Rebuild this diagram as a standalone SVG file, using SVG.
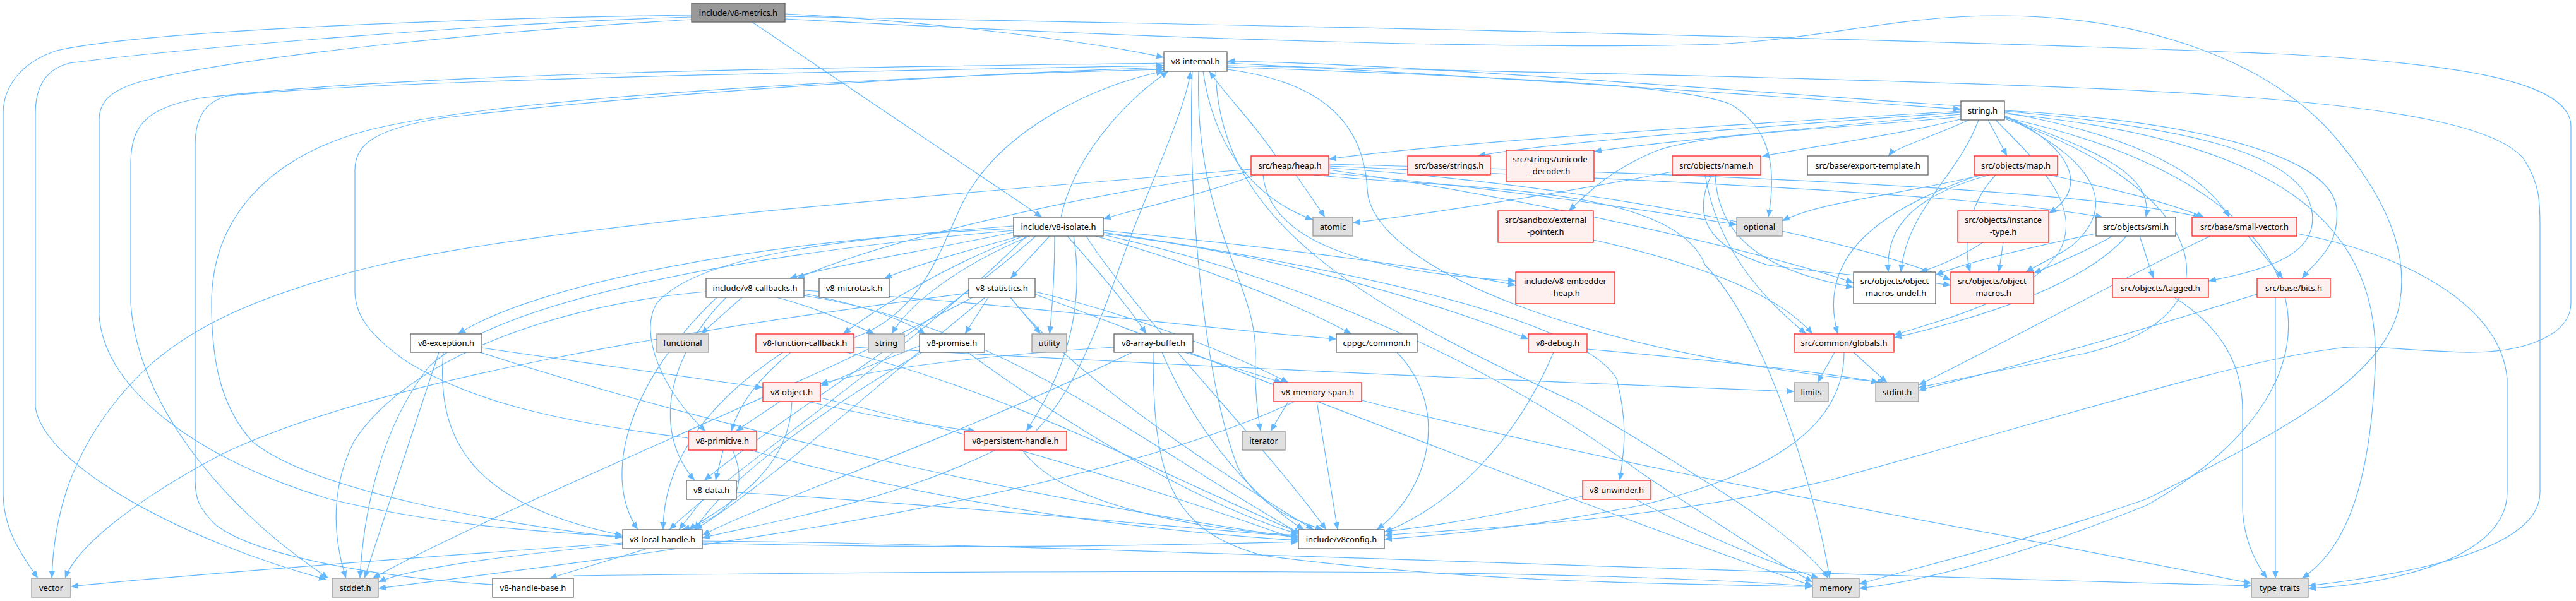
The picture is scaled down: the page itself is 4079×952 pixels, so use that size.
<svg xmlns="http://www.w3.org/2000/svg" width="4079" height="952" viewBox="0 0 4079 952">
<style>
.e path{fill:none;stroke:#63b8ff;stroke-width:1.2;marker-end:url(#ah)}
.n rect{fill:#ffffff;stroke:#666666;stroke-width:1.3}
.r rect{fill:#fff0f0;stroke:#ff2020;stroke-width:1.3}
.g rect{fill:#e0e0e0;stroke:#999999;stroke-width:1.3}
.root rect{fill:#999999;stroke:#666666;stroke-width:1.3}
text{font-family:"Noto Sans","DejaVu Sans",sans-serif;font-size:13px;text-anchor:middle;fill:#000000}
</style>
<defs>
<marker id="ah" markerWidth="12" markerHeight="10" refX="12" refY="5" orient="auto" markerUnits="userSpaceOnUse"><path d="M0,0L12,5L0,10z" fill="#63b8ff" stroke="none"/></marker>
</defs>
<rect width="4079" height="952" fill="#ffffff"/>
<g id="edges" class="e">
<path d="M1095,24 C800,28 250,45 90,80 C30,100 5,140 5,180 L5,780 C5,840 35,880 60,916"/>
<path d="M1095,27 C800,35 300,75 110,100 C70,110 56,140 56,180 L56,645 C70,740 300,860 517,918"/>
<path d="M1095,31 C800,48 400,85 220,130 C170,145 157,165 157,190 L157,500 C165,620 320,730 520,790 C700,835 900,845 986,850"/>
<path d="M1243,22 C1500,35 1750,70 1843,91"/>
<path d="M1191,35 L1650,344"/>
<path d="M1243,26 C2000,40 3000,60 3600,85 C3900,100 4071,130 4071,200 L4071,480 C4071,530 4000,560 3900,558 C3800,555 3750,545 3700,552 C3550,570 3300,650 2900,760 C2600,830 2300,838 2192,848"/>
<path d="M1243,30 C1800,60 2400,80 2720,70 C2900,60 3000,25 3166,25 C3400,25 3600,100 3700,220 C3800,340 3810,420 3800,480 C3780,600 3600,690 3400,790 C3200,860 3050,895 2944,925"/>
<path d="M1843,100 C1500,105 700,110 320,155 C230,170 207,200 207,260 L207,480 C215,620 330,790 520,916"/>
<path d="M780,926 C600,915 400,880 340,830 C315,805 309,790 309,760 L309,230 C309,180 330,160 360,152 C600,125 1500,110 1843,104"/>
<path d="M1090,694 C900,670 750,640 640,570 C585,530 562,500 562,460 L562,270 C562,230 590,205 700,187 C1100,140 1600,115 1843,107"/>
<path d="M986,852 C800,830 500,780 400,700 C345,640 335,560 335,480 C335,350 420,250 580,207 C800,150 1500,118 1843,110"/>
<path d="M1352,535 C1450,500 1480,420 1520,330 C1580,200 1750,130 1843,113"/>
<path d="M1943,100 C2300,118 2700,145 3105,173"/>
<path d="M1905,113 C1925,250 2000,320 2079,348"/>
<path d="M1898,113 C1890,350 1990,450 1988,560 C1986,620 1992,660 1996,683"/>
<path d="M1925,113 C1930,350 2150,480 2500,640 C2700,760 2850,850 2895,916"/>
<path d="M1943,106 C2300,120 2650,130 2740,165 C2800,200 2815,260 2800,344"/>
<path d="M1943,104 C2500,115 3200,130 3500,150 C3800,170 3950,200 3995,250 C4022,290 4022,320 4022,360 L4022,780 C4022,850 3900,900 3655,928"/>
<path d="M1888,113 C1880,300 1905,600 1960,740 C1990,800 2050,825 2095,839"/>
<path d="M1943,110 C2100,130 2160,200 2165,300 C2170,420 2500,560 2985,606"/>
<path d="M2020,247 C1990,200 1940,150 1915,113"/>
<path d="M1981,268 C1600,300 900,350 600,420 C350,480 250,550 180,640 C110,730 85,820 82,916"/>
<path d="M1988,277 C1900,310 1800,330 1747,347"/>
<path d="M1981,272 C1700,310 1400,380 1262,441"/>
<path d="M2052,277 L2098,344"/>
<path d="M2104,274 C2400,300 2650,340 2750,356"/>
<path d="M2080,277 C2300,300 2650,290 2700,420 C2800,520 2880,800 2897,916"/>
<path d="M2000,277 C2010,380 2150,430 2400,445"/>
<path d="M2104,266 C2500,290 2950,380 3089,444"/>
<path d="M2104,269 C2400,310 2800,400 2935,448"/>
<path d="M2104,260 C2700,275 3300,300 3485,344"/>
<path d="M2104,263 C2600,285 3100,305 3330,344"/>
<path d="M3105,168 C2700,140 2200,100 1943,97"/>
<path d="M3105,176 C2700,200 2300,225 2104,252"/>
<path d="M3105,178 C2800,200 2450,225 2340,247"/>
<path d="M3105,181 C2900,200 2650,222 2524,240"/>
<path d="M3105,185 C2900,205 2700,210 2620,240 C2550,270 2520,300 2484,334"/>
<path d="M3108,188 C3000,215 2850,235 2790,248"/>
<path d="M3118,190 C3050,220 3000,235 2990,247"/>
<path d="M3148,190 L3178,247"/>
<path d="M3174,183 C3260,220 3320,290 3244,338"/>
<path d="M3174,186 C3330,240 3410,280 3398,344"/>
<path d="M3174,178 C3350,210 3480,260 3530,344"/>
<path d="M3174,176 C3450,200 3640,240 3660,330 C3675,400 3600,425 3497,445"/>
<path d="M3174,175 C3450,190 3690,240 3700,330 C3705,390 3670,410 3645,441"/>
<path d="M3174,184 C3330,260 3350,330 3280,390 C3250,410 3225,420 3208,431"/>
<path d="M3133,190 C3100,280 3020,330 3010,431"/>
<path d="M3160,190 C3230,260 3300,330 3260,400 C3200,480 3060,510 2999,531"/>
<path d="M3174,180 C3600,220 3780,350 3760,600 C3750,800 3700,880 3645,916"/>
<path d="M3174,188 C3500,300 3560,500 3300,560 C3150,590 3080,605 3038,614"/>
<path d="M3174,186 C3700,300 3750,600 3400,800 C3200,880 3050,920 2944,932"/>
<path d="M2648,272 C2450,310 2250,340 2142,353"/>
<path d="M2710,277 C2680,340 2700,390 2800,420 C2950,440 3050,445 3089,452"/>
<path d="M2716,277 C2720,380 2800,430 2935,455"/>
<path d="M2700,277 C2720,400 2800,480 2860,529"/>
<path d="M3140,277 C3000,310 2880,320 2822,350"/>
<path d="M3150,277 C3030,310 2985,360 2990,431"/>
<path d="M3160,277 C3110,330 3110,400 3120,431"/>
<path d="M3245,277 C3350,300 3430,320 3490,344"/>
<path d="M3135,277 C2950,340 2880,420 2910,529"/>
<path d="M3140,384 C3100,410 3060,425 3040,431"/>
<path d="M3172,384 L3165,431"/>
<path d="M3345,374 C3300,400 3250,420 3220,433"/>
<path d="M3319,370 C3200,395 3100,420 3065,436"/>
<path d="M3388,374 L3410,441"/>
<path d="M3367,374 C3300,450 3150,500 2999,535"/>
<path d="M3560,374 L3615,441"/>
<path d="M3637,370 C3800,400 3960,480 3970,600 L3970,780 C3970,880 3800,925 3655,932"/>
<path d="M3500,374 C3400,420 3200,530 3038,610"/>
<path d="M3443,471 C3520,520 3551,580 3551,650 L3551,800 C3551,850 3570,890 3590,916"/>
<path d="M3603,471 L3603,916"/>
<path d="M3574,466 C3400,520 3200,580 3038,618"/>
<path d="M2523,380 C2700,420 2820,470 2870,529"/>
<path d="M2905,558 L2878,606"/>
<path d="M2935,558 L2988,606"/>
<path d="M2920,558 C2920,650 2850,740 2600,800 C2400,840 2250,850 2192,854"/>
<path d="M1175,471 L1110,529"/>
<path d="M1230,471 C1300,490 1340,510 1385,529"/>
<path d="M1273,460 C1600,480 1900,520 2116,537"/>
<path d="M1150,471 C1060,560 1030,680 1100,761"/>
<path d="M1135,471 C1000,600 950,750 1010,839"/>
<path d="M1273,465 C1350,480 1420,500 1465,529"/>
<path d="M1118,462 C900,480 650,560 560,700 C520,780 530,860 548,916"/>
<path d="M1273,468 C1600,520 1800,700 2060,846"/>
<path d="M1680,344 C1700,250 1780,160 1850,113"/>
<path d="M1605,368 C1450,400 1320,420 1250,441"/>
<path d="M1615,374 C1520,400 1450,420 1400,441"/>
<path d="M1662,374 L1600,441"/>
<path d="M1605,362 C1200,380 850,450 725,529"/>
<path d="M1620,374 C1500,420 1400,480 1335,529"/>
<path d="M1630,374 C1520,420 1440,480 1412,529"/>
<path d="M1670,374 C1670,450 1665,500 1662,529"/>
<path d="M1690,374 C1740,430 1790,490 1815,529"/>
<path d="M1735,374 C1900,420 2050,480 2140,529"/>
<path d="M1747,370 C2000,400 2250,470 2420,537"/>
<path d="M1747,365 C2000,390 2250,420 2400,452"/>
<path d="M1747,368 C2100,420 2500,500 2560,600 C2580,680 2570,720 2565,761"/>
<path d="M1640,374 C1500,500 1250,650 1115,761"/>
<path d="M1625,374 C1450,550 1150,750 1060,839"/>
<path d="M1700,374 C1720,500 1680,600 1625,683"/>
<path d="M1605,358 C1300,380 1100,410 1040,480 C1010,530 1050,620 1117,683"/>
<path d="M1605,365 C1200,400 800,470 680,580 C600,680 575,820 570,916"/>
<path d="M1747,372 C2100,450 2400,600 2600,750 C2750,850 2830,900 2870,922"/>
<path d="M1720,374 C1800,500 2000,700 2100,839"/>
<path d="M1565,471 L1528,529"/>
<path d="M1600,471 L1648,529"/>
<path d="M1534,464 C1100,520 600,600 350,720 C200,800 120,870 103,916"/>
<path d="M1560,471 C1400,600 1200,780 1100,839"/>
<path d="M1639,462 C1800,500 1950,560 2040,606"/>
<path d="M1540,471 C1300,600 800,800 590,916"/>
<path d="M1639,466 C2000,600 2500,800 2870,928"/>
<path d="M1600,471 C1700,600 1950,760 2080,839"/>
<path d="M695,558 L577,916"/>
<path d="M702,558 C690,700 750,800 986,848"/>
<path d="M763,551 C900,570 1100,600 1208,614"/>
<path d="M760,558 C1200,700 1700,800 2056,852"/>
<path d="M1240,558 C1100,650 1050,750 1050,839"/>
<path d="M1252,558 C1200,600 1170,640 1158,683"/>
<path d="M1340,558 C1600,620 1900,780 2060,845"/>
<path d="M1352,550 C1700,570 2300,600 2841,620"/>
<path d="M1460,558 C1300,650 1150,760 1100,839"/>
<path d="M1456,548 C1400,570 1350,590 1299,612"/>
<path d="M1532,558 C1700,680 1900,800 2056,846"/>
<path d="M1764,550 C1600,560 1400,580 1299,608"/>
<path d="M1876,558 L2030,606"/>
<path d="M1793,558 C1500,700 1200,800 1112,848"/>
<path d="M1826,558 C1826,750 1850,840 2000,880 C2300,920 2600,925 2870,929"/>
<path d="M1840,558 C1900,700 2000,800 2065,839"/>
<path d="M2212,558 C2300,650 2260,780 2180,839"/>
<path d="M2460,558 C2400,700 2300,800 2192,843"/>
<path d="M2513,553 C2700,570 2900,590 2975,606"/>
<path d="M1235,636 L1165,683"/>
<path d="M1254,636 C1250,750 1150,800 1090,839"/>
<path d="M1280,636 C1380,660 1480,675 1545,683"/>
<path d="M1299,630 C1600,700 1900,800 2056,855"/>
<path d="M2040,636 L2012,683"/>
<path d="M2085,636 L2118,839"/>
<path d="M2156,634 C2600,750 3200,850 3565,924"/>
<path d="M2050,636 C1700,800 1000,880 599,932"/>
<path d="M1145,713 L1133,761"/>
<path d="M1160,713 C1190,780 1150,820 1080,839"/>
<path d="M1188,713 C1500,800 1800,840 2056,856"/>
<path d="M1640,683 C1720,600 1760,450 1800,350 C1840,250 1880,160 1885,113"/>
<path d="M1576,713 C1400,800 1200,830 1112,852"/>
<path d="M1619,713 C1680,800 1900,840 2056,848"/>
<path d="M1113,791 L1075,839"/>
<path d="M1166,780 C1500,800 1800,830 2056,850"/>
<path d="M2506,786 C2400,810 2300,830 2192,842"/>
<path d="M2590,791 C2700,850 2800,890 2880,916"/>
<path d="M1025,869 L870,916"/>
<path d="M986,860 C700,880 300,910 112,929"/>
<path d="M986,862 C800,880 650,900 599,922"/>
<path d="M1112,857 C1600,860 2500,900 3565,928"/>
<path d="M1112,860 C1500,870 1800,865 2056,858"/>
<path d="M908,912 C1500,905 2200,900 2600,915 C2750,920 2820,925 2870,929"/>
</g>
<g id="n-metrics" class="root"><rect x="1095" y="5" width="148" height="30"/><text x="1169" y="25">include/v8-metrics.h</text></g>
<g id="n-internal" class="n"><rect x="1843" y="82" width="100" height="31"/><text x="1893" y="102">v8-internal.h</text></g>
<g id="n-string-h" class="n"><rect x="3105" y="160" width="69" height="30"/><text x="3139.5" y="180">string.h</text></g>
<g id="n-heap" class="r"><rect x="1981" y="247" width="123" height="30"/><text x="2042.5" y="267">src/heap/heap.h</text></g>
<g id="n-strings" class="r"><rect x="2229" y="247" width="131" height="30"/><text x="2294.5" y="267">src/base/strings.h</text></g>
<g id="n-unidec" class="r"><rect x="2385" y="238" width="139" height="49"/><text x="2454.5" y="257">src/strings/unicode</text><text x="2454.5" y="276">-decoder.h</text></g>
<g id="n-name" class="r"><rect x="2648" y="247" width="140" height="30"/><text x="2718" y="267">src/objects/name.h</text></g>
<g id="n-exporttpl" class="n"><rect x="2862" y="247" width="191" height="30"/><text x="2957.5" y="267">src/base/export-template.h</text></g>
<g id="n-map" class="r"><rect x="3126" y="247" width="132" height="30"/><text x="3192" y="267">src/objects/map.h</text></g>
<g id="n-isolate" class="n"><rect x="1605" y="344" width="142" height="30"/><text x="1676" y="364">include/v8-isolate.h</text></g>
<g id="n-atomic" class="g"><rect x="2079" y="344" width="63" height="30"/><text x="2110.5" y="364">atomic</text></g>
<g id="n-extptr" class="r"><rect x="2372" y="334" width="151" height="50"/><text x="2447.5" y="353">src/sandbox/external</text><text x="2447.5" y="372">-pointer.h</text></g>
<g id="n-optional" class="g"><rect x="2750" y="344" width="72" height="30"/><text x="2786" y="364">optional</text></g>
<g id="n-insttype" class="r"><rect x="3100" y="334" width="144" height="50"/><text x="3172" y="353">src/objects/instance</text><text x="3172" y="372">-type.h</text></g>
<g id="n-smi" class="n"><rect x="3319" y="344" width="126" height="30"/><text x="3382" y="364">src/objects/smi.h</text></g>
<g id="n-smallvec" class="r"><rect x="3471" y="344" width="166" height="30"/><text x="3554" y="364">src/base/small-vector.h</text></g>
<g id="n-callbacks" class="n"><rect x="1118" y="441" width="155" height="30"/><text x="1195.5" y="461">include/v8-callbacks.h</text></g>
<g id="n-microtask" class="n"><rect x="1297" y="441" width="111" height="30"/><text x="1352.5" y="461">v8-microtask.h</text></g>
<g id="n-statistics" class="n"><rect x="1534" y="441" width="105" height="30"/><text x="1586.5" y="461">v8-statistics.h</text></g>
<g id="n-embheap" class="r"><rect x="2400" y="431" width="157" height="50"/><text x="2478.5" y="450">include/v8-embedder</text><text x="2478.5" y="469">-heap.h</text></g>
<g id="n-macundef" class="n"><rect x="2935" y="431" width="130" height="50"/><text x="3000" y="450">src/objects/object</text><text x="3000" y="469">-macros-undef.h</text></g>
<g id="n-macros" class="r"><rect x="3089" y="431" width="131" height="50"/><text x="3154.5" y="450">src/objects/object</text><text x="3154.5" y="469">-macros.h</text></g>
<g id="n-tagged" class="r"><rect x="3345" y="441" width="152" height="30"/><text x="3421" y="461">src/objects/tagged.h</text></g>
<g id="n-bits" class="r"><rect x="3574" y="441" width="116" height="30"/><text x="3632" y="461">src/base/bits.h</text></g>
<g id="n-exception" class="n"><rect x="650" y="529" width="113" height="29"/><text x="706.5" y="548">v8-exception.h</text></g>
<g id="n-functional" class="g"><rect x="1040" y="529" width="82" height="29"/><text x="1081" y="548">functional</text></g>
<g id="n-funccb" class="r"><rect x="1197" y="529" width="155" height="29"/><text x="1274.5" y="548">v8-function-callback.h</text></g>
<g id="n-string" class="g"><rect x="1375" y="529" width="57" height="29"/><text x="1403.5" y="548">string</text></g>
<g id="n-promise" class="n"><rect x="1456" y="529" width="103" height="29"/><text x="1507.5" y="548">v8-promise.h</text></g>
<g id="n-utility" class="g"><rect x="1634" y="529" width="55" height="29"/><text x="1661.5" y="548">utility</text></g>
<g id="n-arraybuf" class="n"><rect x="1764" y="529" width="125" height="29"/><text x="1826.5" y="548">v8-array-buffer.h</text></g>
<g id="n-cppgc" class="n"><rect x="2116" y="529" width="128" height="29"/><text x="2180" y="548">cppgc/common.h</text></g>
<g id="n-debug" class="r"><rect x="2420" y="529" width="93" height="29"/><text x="2466.5" y="548">v8-debug.h</text></g>
<g id="n-globals" class="r"><rect x="2841" y="529" width="158" height="29"/><text x="2920" y="548">src/common/globals.h</text></g>
<g id="n-object" class="r"><rect x="1208" y="606" width="91" height="30"/><text x="1253.5" y="626">v8-object.h</text></g>
<g id="n-memspan" class="r"><rect x="2017" y="606" width="139" height="30"/><text x="2086.5" y="626">v8-memory-span.h</text></g>
<g id="n-limits" class="g"><rect x="2841" y="606" width="54" height="30"/><text x="2868" y="626">limits</text></g>
<g id="n-stdint" class="g"><rect x="2970" y="606" width="68" height="30"/><text x="3004" y="626">stdint.h</text></g>
<g id="n-primitive" class="r"><rect x="1090" y="683" width="108" height="30"/><text x="1144" y="703">v8-primitive.h</text></g>
<g id="n-persistent" class="r"><rect x="1527" y="683" width="162" height="30"/><text x="1608" y="703">v8-persistent-handle.h</text></g>
<g id="n-iterator" class="g"><rect x="1967" y="683" width="68" height="30"/><text x="2001" y="703">iterator</text></g>
<g id="n-data" class="n"><rect x="1087" y="761" width="79" height="30"/><text x="1126.5" y="781">v8-data.h</text></g>
<g id="n-unwinder" class="r"><rect x="2506" y="761" width="108" height="30"/><text x="2560" y="781">v8-unwinder.h</text></g>
<g id="n-localhandle" class="n"><rect x="986" y="839" width="126" height="30"/><text x="1049" y="859">v8-local-handle.h</text></g>
<g id="n-v8config" class="n"><rect x="2056" y="839" width="136" height="30"/><text x="2124" y="859">include/v8config.h</text></g>
<g id="n-vector" class="g"><rect x="50" y="916" width="62" height="30"/><text x="81" y="936">vector</text></g>
<g id="n-stddef" class="g"><rect x="526" y="916" width="73" height="30"/><text x="562.5" y="936">stddef.h</text></g>
<g id="n-handlebase" class="n"><rect x="780" y="916" width="128" height="30"/><text x="844" y="936">v8-handle-base.h</text></g>
<g id="n-memory" class="g"><rect x="2870" y="916" width="74" height="30"/><text x="2907" y="936">memory</text></g>
<g id="n-typetraits" class="g"><rect x="3565" y="916" width="90" height="30"/><text x="3610" y="936">type_traits</text></g>
</svg>
